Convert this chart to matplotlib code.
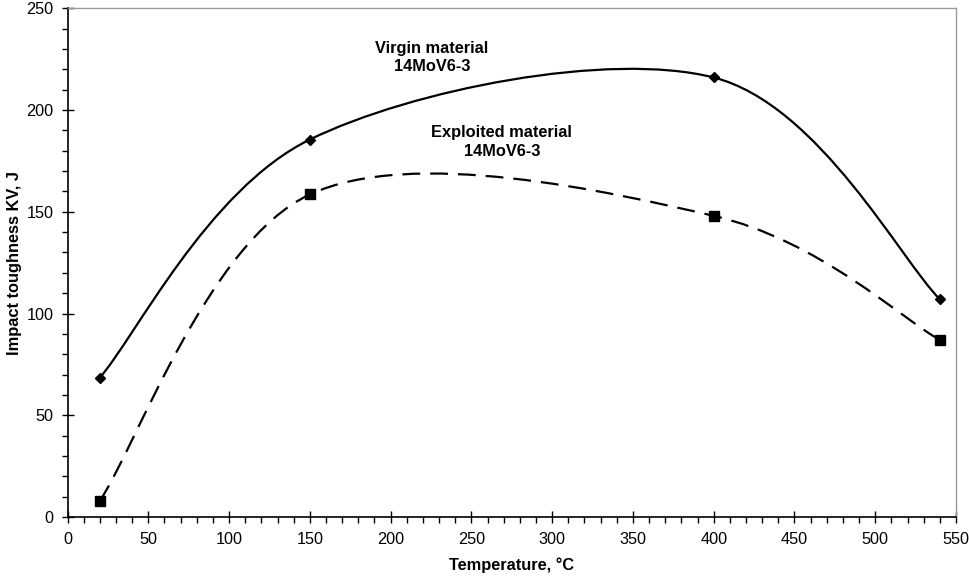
import numpy as np
import matplotlib.pyplot as plt
from matplotlib.path import Path
from matplotlib.patches import PathPatch
from matplotlib.ticker import MultipleLocator

plt.rcParams['font.family'] = ['Liberation Sans', 'DejaVu Sans']

temperature = [20, 150, 400, 540]
virgin = [68.5, 185.5, 216, 107]
exploited = [8, 158.5, 148, 87]


def smooth_path(xs, ys):
    # Excel-style smoothed line: cubic Bezier segments through the points
    pts = np.column_stack([xs, ys]).astype(float)
    n = len(pts)
    verts = [pts[0]]
    codes = [Path.MOVETO]
    for i in range(n - 1):
        p0 = pts[i - 1] if i > 0 else pts[i]
        p1 = pts[i]
        p2 = pts[i + 1]
        p3 = pts[i + 2] if i + 2 < n else pts[i + 1]
        c1 = p1 + (p2 - p0) / 6.0
        c2 = p2 - (p3 - p1) / 6.0
        verts += [c1, c2, p2]
        codes += [Path.CURVE4] * 3
    return Path(verts, codes)


fig = plt.figure(figsize=(9.7, 5.77), dpi=100)
ax = fig.add_axes([0.0696, 0.104, 0.916, 0.8816])

ax.add_patch(PathPatch(smooth_path(temperature, virgin), fill=False,
                       edgecolor='black', lw=1.6))
ax.add_patch(PathPatch(smooth_path(temperature, exploited), fill=False,
                       edgecolor='black', lw=1.6, linestyle=(0, (8, 4.5))))
ax.plot(temperature, virgin, linestyle='none', marker='D', ms=5.5, color='black')
ax.plot(temperature, exploited, linestyle='none', marker='s', ms=7, color='black')

ax.text(225.6, 225.8, 'Virgin material\n14MoV6-3', ha='center', va='center',
        fontsize=11.8, fontweight='bold', linespacing=1.3)
ax.text(268.8, 184.3, 'Exploited material\n14MoV6-3', ha='center', va='center',
        fontsize=11.8, fontweight='bold', linespacing=1.3)

ax.set_xlim(0, 550)
ax.set_ylim(0, 250)
ax.xaxis.set_major_locator(MultipleLocator(50))
ax.xaxis.set_minor_locator(MultipleLocator(10))
ax.yaxis.set_major_locator(MultipleLocator(50))
ax.yaxis.set_minor_locator(MultipleLocator(10))
ax.tick_params(which='major', direction='inout', length=8, width=1,
               labelsize=11.7)
ax.tick_params(axis='x', which='major', pad=6.5)
ax.tick_params(axis='y', which='major', pad=6)
ax.tick_params(which='minor', direction='out', length=4, width=1)

for side in ['top', 'right']:
    ax.spines[side].set_color('#999999')
    ax.spines[side].set_linewidth(1)
for side in ['left', 'bottom']:
    ax.spines[side].set_linewidth(1.2)

ax.set_xlabel('Temperature, °C', fontsize=11.8, fontweight='bold', labelpad=8)
ax.set_ylabel('Impact toughness KV, J', fontsize=11.8, fontweight='bold', labelpad=3)

fig.savefig('out.png', dpi=100)
